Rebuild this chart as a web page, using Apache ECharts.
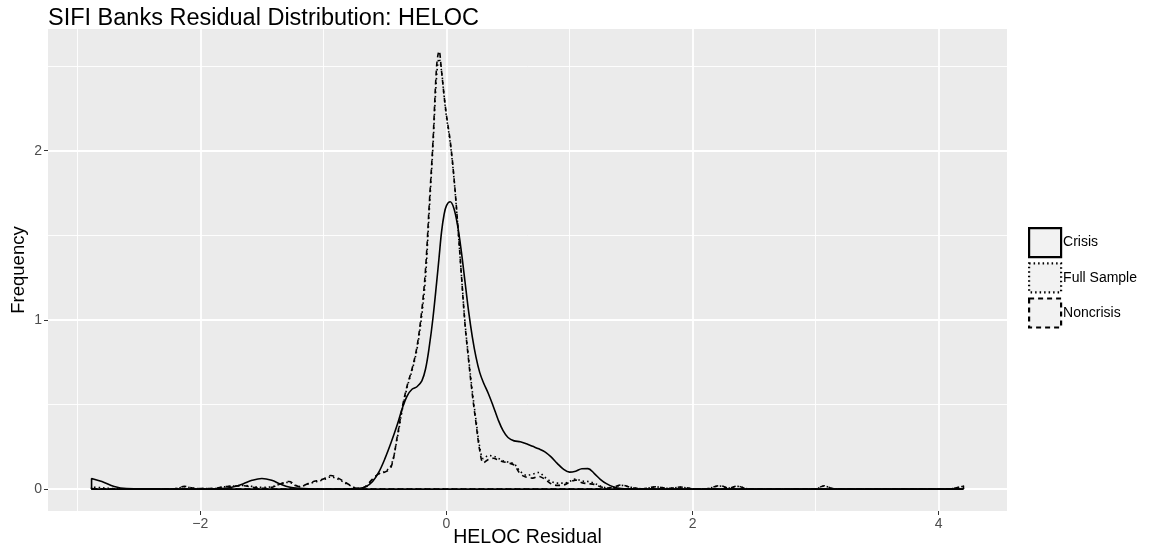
<!DOCTYPE html>
<html>
<head>
<meta charset="utf-8">
<script src="https://cdn.jsdelivr.net/npm/echarts@6/dist/echarts.min.js"></script>
<style>html,body{margin:0;padding:0;background:#fff;}#c{width:1150px;height:552px;}</style>
</head>
<body>
<div id="c"></div>
<script>
// ---- data ----
var titleText = 'SIFI Banks Residual Distribution: HELOC';
var xName = 'HELOC Residual';
var yName = 'Frequency';
var seriesNames = ['Crisis', 'Full Sample', 'Noncrisis'];
var xTicks = [-2, 0, 2, 4];
var yTicks = [0, 1, 2];
var xMinorGrid = [-3, -1, 1, 3];
var yMinorGrid = [0.5, 1.5, 2.5];

var gridX = [-2.884,-2.80,-2.70,-2.60,-2.40,-2.20,-2.13,-2.05,-1.90,-1.80,-1.72,-1.65,-1.58,-1.50,-1.42,-1.35,-1.28,-1.20,-1.10,-1.00,-0.94,-0.88,-0.80,-0.72,-0.66,-0.60,-0.55,-0.50,-0.45,-0.40,-0.36,-0.32,-0.28,-0.24,-0.20,-0.17,-0.14,-0.11,-0.08,-0.06,-0.04,-0.02,0.00,0.03,0.06,0.09,0.12,0.15,0.18,0.21,0.24,0.27,0.30,0.34,0.38,0.42,0.46,0.50,0.55,0.60,0.65,0.70,0.75,0.80,0.85,0.90,0.95,1.00,1.05,1.10,1.15,1.20,1.25,1.30,1.36,1.42,1.50,1.60,1.70,1.80,1.90,2.00,2.10,2.22,2.30,2.36,2.45,2.60,2.80,3.00,3.07,3.14,3.30,3.60,3.90,4.10,4.201];

var crisisY = [0.063,0.045,0.015,0.003,0.001,0.000,0.000,0.000,0.001,0.004,0.015,0.032,0.052,0.063,0.052,0.030,0.012,0.004,0.001,0.000,0.000,0.000,0.001,0.004,0.012,0.045,0.100,0.180,0.275,0.380,0.475,0.550,0.590,0.605,0.640,0.710,0.840,1.010,1.220,1.370,1.520,1.620,1.675,1.698,1.660,1.560,1.410,1.230,1.050,0.900,0.780,0.690,0.630,0.565,0.490,0.410,0.345,0.305,0.285,0.280,0.268,0.253,0.238,0.220,0.190,0.152,0.118,0.100,0.106,0.120,0.121,0.093,0.058,0.032,0.012,0.003,0.001,0.000,0.000,0.000,0.000,0.000,0.000,0.000,0.000,0.000,0.000,0.000,0.000,0.000,0.000,0.000,0.000,0.000,0.000,0.000,0.000];

var fullY = [0.012,0.008,0.003,0.001,0.000,0.003,0.014,0.004,0.003,0.014,0.018,0.022,0.016,0.010,0.014,0.030,0.040,0.014,0.036,0.055,0.072,0.058,0.027,0.005,0.010,0.055,0.090,0.105,0.140,0.300,0.465,0.600,0.700,0.825,1.030,1.250,1.640,2.020,2.440,2.545,2.470,2.330,2.200,2.050,1.845,1.575,1.280,0.990,0.775,0.580,0.410,0.250,0.180,0.198,0.195,0.182,0.168,0.160,0.148,0.105,0.082,0.088,0.098,0.070,0.045,0.035,0.035,0.045,0.060,0.048,0.045,0.035,0.018,0.008,0.012,0.022,0.010,0.002,0.013,0.004,0.011,0.002,0.001,0.018,0.006,0.016,0.002,0.000,0.000,0.002,0.018,0.003,0.000,0.000,0.000,0.002,0.018];

var noncrisisY = [0.000,0.000,0.000,0.000,0.000,0.003,0.016,0.004,0.003,0.015,0.018,0.020,0.012,0.004,0.010,0.030,0.045,0.015,0.040,0.060,0.080,0.065,0.030,0.003,0.015,0.060,0.090,0.100,0.130,0.310,0.480,0.610,0.710,0.840,1.060,1.300,1.680,2.050,2.500,2.590,2.470,2.330,2.210,2.060,1.850,1.580,1.280,0.980,0.760,0.560,0.390,0.230,0.155,0.175,0.182,0.172,0.162,0.155,0.142,0.090,0.070,0.065,0.075,0.058,0.032,0.022,0.024,0.040,0.053,0.038,0.032,0.028,0.014,0.006,0.012,0.024,0.010,0.002,0.014,0.004,0.012,0.002,0.001,0.020,0.006,0.018,0.002,0.000,0.000,0.002,0.020,0.003,0.000,0.000,0.000,0.002,0.020];

// ---- build ----
var FONT = 'Liberation Sans';
var lineTypes = ['solid', [1.5, 3], [5, 4]];
var ys = [crisisY, fullY, noncrisisY];
var xMin = gridX[0], xMax = gridX[gridX.length - 1];

function curveData(y) {
  var d = [[xMin, 0]];
  for (var i = 0; i < gridX.length; i++) d.push([gridX[i], y[i]]);
  d.push([xMax, 0]);
  return d;
}

var series = [];
// gridlines via markLine on a helper series
var gridLines = [];
xTicks.forEach(function (v) { gridLines.push({ xAxis: v, lineStyle: { width: 1.8 } }); });
yTicks.forEach(function (v) { gridLines.push({ yAxis: v, lineStyle: { width: 1.8 } }); });
xMinorGrid.forEach(function (v) { gridLines.push({ xAxis: v, lineStyle: { width: 0.9 } }); });
yMinorGrid.forEach(function (v) { gridLines.push({ yAxis: v, lineStyle: { width: 0.9 } }); });
series.push({
  name: '_grid', type: 'line', data: [], silent: true, z: 0,
  markLine: {
    silent: true, z: 0, symbol: ['none', 'none'], label: { show: false },
    lineStyle: { color: '#FFFFFF', type: 'solid' },
    emphasis: { disabled: true },
    animation: false,
    data: gridLines
  }
});

seriesNames.forEach(function (n, k) {
  series.push({
    name: n, type: 'line', data: curveData(ys[k]), smooth: 0.35,
    showSymbol: false, symbol: 'none', z: 2 + k,
    lineStyle: { color: '#000', width: 1.6, type: lineTypes[k] },
    itemStyle: { color: '#F2F2F2', borderColor: '#000' },
    emphasis: { disabled: true }
  });
  series.push({
    name: n + '_base', type: 'line', data: [[xMin, 0], [xMax, 0]],
    showSymbol: false, symbol: 'none', z: 2 + k,
    lineStyle: { color: '#000', width: 1.6, type: lineTypes[k] },
    emphasis: { disabled: true }
  });
});

var chart = echarts.init(document.getElementById('c'), null, { renderer: 'canvas' });
chart.setOption({
  animation: false,
  backgroundColor: '#FFFFFF',
  textStyle: { fontFamily: FONT },
  title: {
    text: titleText, left: 43, top: 2,
    textStyle: { fontFamily: FONT, fontSize: 23.5, fontWeight: 'normal', color: '#000' }
  },
  legend: {
    orient: 'vertical', left: 1023, top: 222,
    itemWidth: 32, itemHeight: 29, itemGap: 4,
    icon: 'rect',
    selectedMode: false,
    textStyle: { fontFamily: FONT, fontSize: 14, color: '#000', padding: [0, 0, 0, -3] },
    data: seriesNames.map(function (n, k) {
      return {
        name: n, icon: 'rect',
        itemStyle: { color: '#F2F2F2', borderColor: '#000', borderWidth: 2.2, borderType: lineTypes[k] },
        lineStyle: { opacity: 0 }
      };
    })
  },
  grid: {
    left: 48, right: 143, top: 29, bottom: 41,
    containLabel: false, outerBoundsMode: 'none',
    show: true, backgroundColor: '#EBEBEB', borderWidth: 0
  },
  xAxis: {
    type: 'value', min: -3.238, max: 4.555,
    name: xName, nameLocation: 'middle', nameGap: 17, nameMoveOverlap: false,
    nameTextStyle: { fontFamily: FONT, fontSize: 19.5, color: '#000' },
    axisLine: { show: false, onZero: false },
    axisTick: { show: true, customValues: xTicks, length: 4, lineStyle: { color: '#333', width: 1 } },
    axisLabel: {
      customValues: xTicks, fontFamily: FONT, fontSize: 14, color: '#4D4D4D', margin: 6,
      formatter: function (v) { return String(v).replace('-', '\u2212'); }
    },
    splitLine: { show: false }
  },
  yAxis: {
    type: 'value', min: -0.1295, max: 2.7195,
    name: yName, nameLocation: 'middle', nameGap: 20, nameRotate: 90, nameMoveOverlap: false,
    nameTextStyle: { fontFamily: FONT, fontSize: 18.5, color: '#000' },
    axisLine: { show: false, onZero: false },
    axisTick: { show: true, customValues: yTicks, length: 4, lineStyle: { color: '#333', width: 1 } },
    axisLabel: {
      customValues: yTicks, fontFamily: FONT, fontSize: 14, color: '#4D4D4D', margin: 6,
      formatter: function (v) { return String(v); }
    },
    splitLine: { show: false }
  },
  series: series
});
</script>
</body>
</html>
